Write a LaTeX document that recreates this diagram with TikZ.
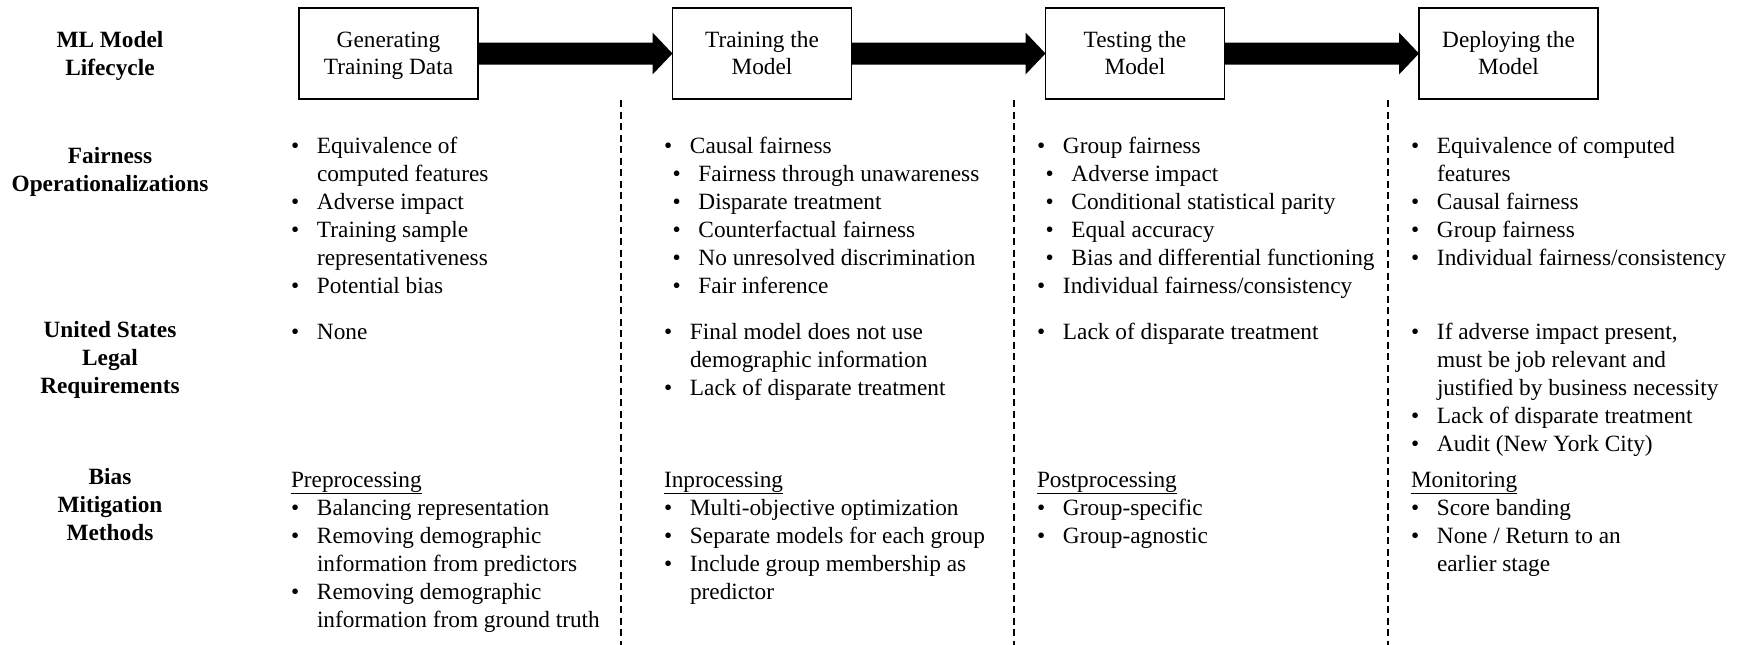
\documentclass[tikz,border=0pt]{standalone}
\usepackage{fontspec}
\setmainfont{Liberation Serif}
\newcommand\bul{\makebox[0pt][r]{\makebox[26pt][l]{•}}}
\newcommand\subbul{\hspace*{8.5pt}\bul}
\newcommand\hd[1]{\hspace*{-26pt}\underline{#1}}
\newcommand\topstrut{\rule{0pt}{21pt}}
\newcommand\botstrut{\vphantom{g}}
\newcommand\cellat[4]{\foreach \lineT [count=\k from 0] in {#4} {\node[txt] (#1-\k) at (#2,#3+28*\k) {\lineT};}}
\newcommand\lblat[3]{\foreach \lineT [count=\k from 0] in {#3} {\node[lbl] (#1-\k) at (110,#2+28*\k) {\lineT};}}
\begin{document}
\begin{tikzpicture}[x=1pt,y=-1pt,
  txt/.style={anchor=base west,inner sep=0pt,outer sep=0pt,font=\fontsize{23.3}{28}\selectfont},
  lbl/.style={anchor=base,inner sep=0pt,outer sep=0pt,font=\fontsize{23.3}{28}\selectfont\bfseries},
  stagebox/.style={draw=black,line width=1.5pt,minimum width=179pt,minimum height=91pt,inner sep=0pt,outer sep=0pt,align=center,font=\fontsize{23.3}{27}\selectfont},
  divider/.style={draw=black,line width=1.5pt,dash pattern=on 7pt off 4.5pt}]
\useasboundingbox (0,0) rectangle (1743,645);

% stage boxes
\node[stagebox] (b1) at (388.5,53.5) {\topstrut Generating\\Training Data\botstrut};
\node[stagebox] (b2) at (762,53.5) {\topstrut Training the\\Model\botstrut};
\node[stagebox] (b3) at (1135,53.5) {\topstrut Testing the\\Model\botstrut};
\node[stagebox] (b4) at (1508.5,53.5) {\topstrut Deploying the\\Model\botstrut};

% block arrows
\foreach \a/\b in {b1/b2,b2/b3,b3/b4}{
  \fill[black] ([yshift=11pt]\a.east) -- ([xshift=-20pt,yshift=11pt]\b.west) -- ([xshift=-20pt,yshift=21pt]\b.west) -- (\b.west) -- ([xshift=-20pt,yshift=-21pt]\b.west) -- ([xshift=-20pt,yshift=-11pt]\b.west) -- ([yshift=-11pt]\a.east) -- cycle;
}

% dividers
\coordinate (d1t) at (621,100); \coordinate (d1b) at (621,645);
\coordinate (d2t) at (1014,100); \coordinate (d2b) at (1014,645);
\coordinate (d3t) at (1388,100); \coordinate (d3b) at (1388,645);
\draw[divider] (d1t) -- (d1b);
\draw[divider] (d2t) -- (d2b);
\draw[divider] (d3t) -- (d3b);

% row labels
\lblat{lA}{47}{ML Model,Lifecycle}
\lblat{lB}{163}{Fairness,Operationalizations}
\lblat{lC}{337}{United States,Legal,Requirements}
\lblat{lD}{484}{Bias,Mitigation,Methods}

% fairness operationalizations
\cellat{f1}{317}{153}{\bul Equivalence of,computed features,\bul Adverse impact,\bul Training sample,representativeness,\bul Potential bias}
\cellat{f2}{690}{153}{\bul Causal fairness,\subbul Fairness through unawareness,\subbul Disparate treatment,\subbul Counterfactual fairness,\subbul No unresolved discrimination,\subbul Fair inference}
\cellat{f3}{1063}{153}{\bul Group fairness,\subbul Adverse impact,\subbul Conditional statistical parity,\subbul Equal accuracy,\subbul Bias and differential functioning,\bul Individual fairness/consistency}
\cellat{f4}{1437}{153}{\bul Equivalence of computed,features,\bul Causal fairness,\bul Group fairness,\bul Individual fairness/consistency}

% legal requirements
\cellat{g1}{317}{339}{\bul None}
\cellat{g2}{690}{339}{\bul Final model does not use,demographic information,\bul Lack of disparate treatment}
\cellat{g3}{1063}{339}{\bul Lack of disparate treatment}
\cellat{g4}{1437}{339}{{\bul If adverse impact present,},must be job relevant and,justified by business necessity,\bul Lack of disparate treatment,\bul Audit (New York City)}

% bias mitigation
\cellat{m1}{317}{487}{\hd{Preprocessing},\bul Balancing representation,\bul Removing demographic,information from predictors,\bul Removing demographic,information from ground truth}
\cellat{m2}{690}{487}{\hd{Inprocessing},\bul Multi-objective optimization,\bul Separate models for each group,\bul Include group membership as,predictor}
\cellat{m3}{1063}{487}{\hd{Postprocessing},\bul Group-specific,\bul Group-agnostic}
\cellat{m4}{1437}{487}{\hd{Monitoring},\bul Score banding,\bul None / Return to an,earlier stage}
\end{tikzpicture}
\end{document}
